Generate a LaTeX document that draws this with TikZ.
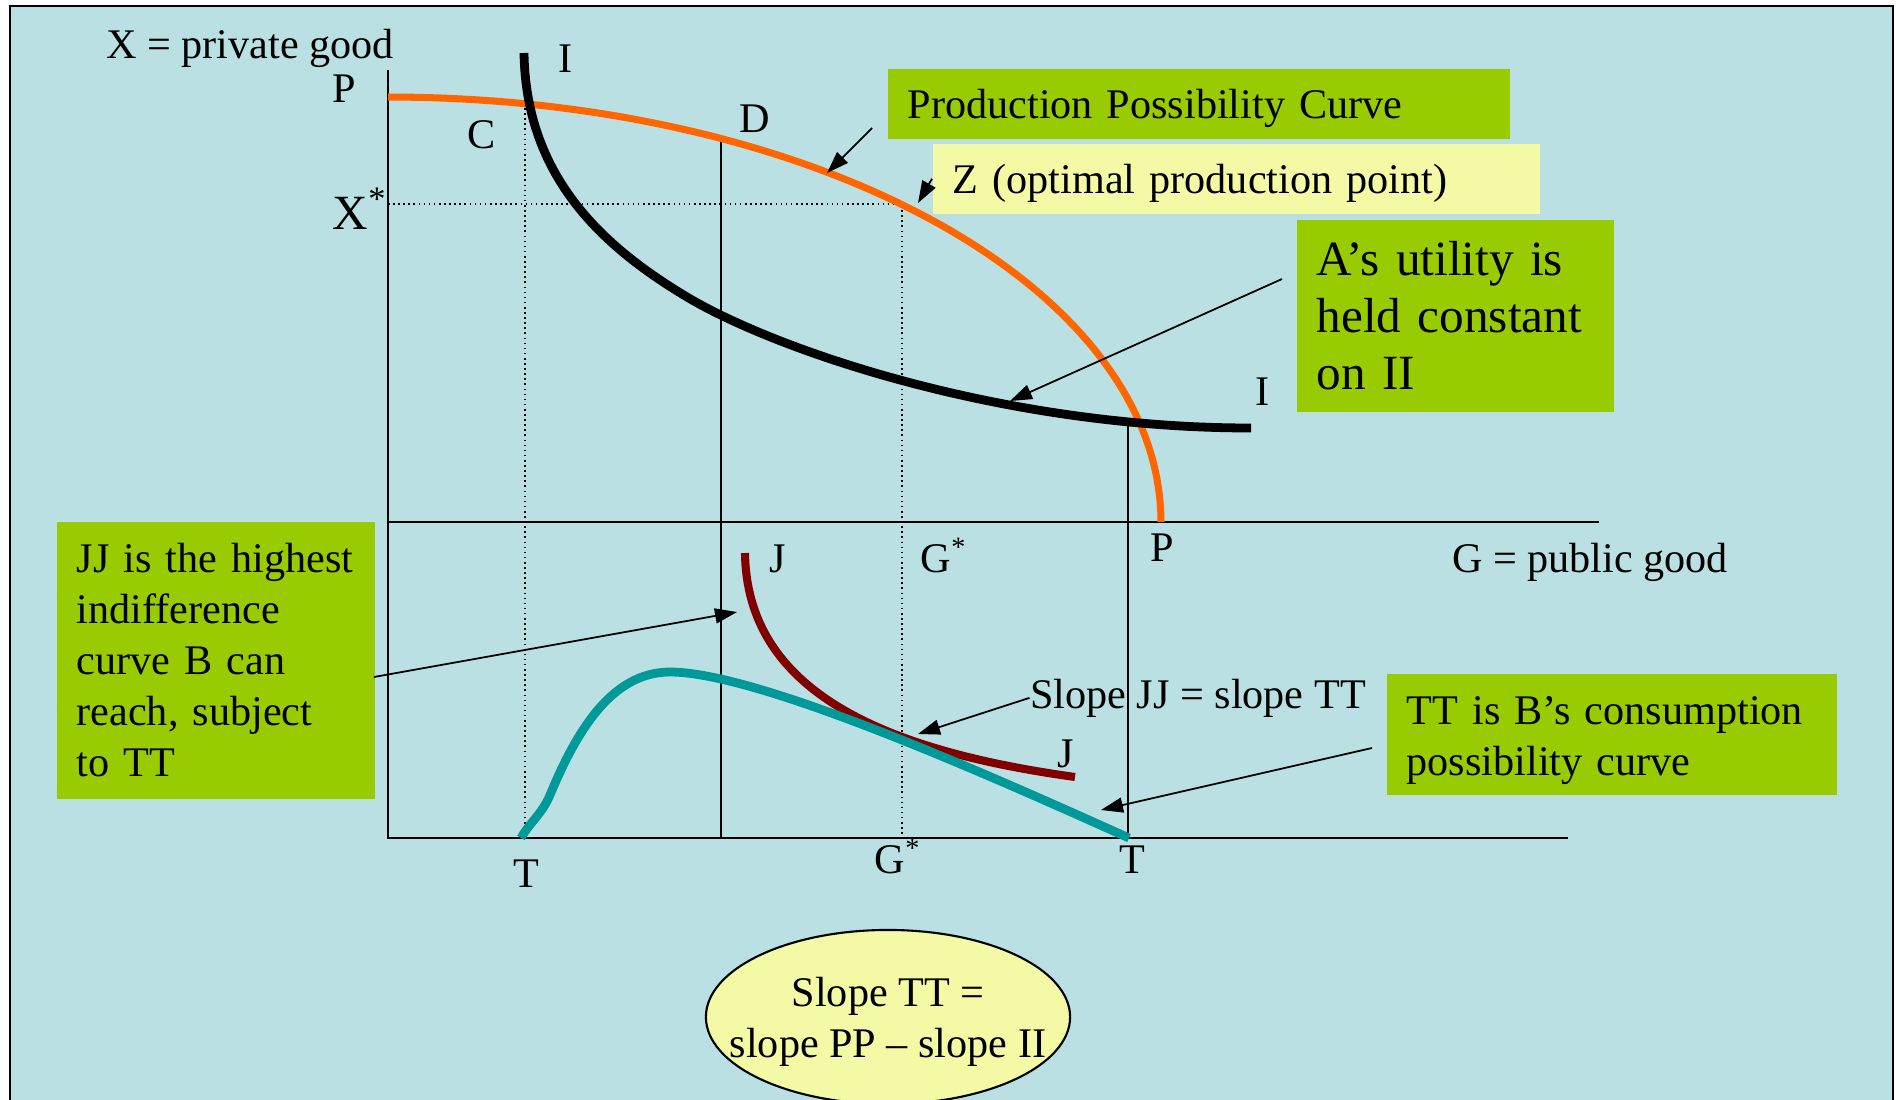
\documentclass[tikz,border=0pt]{standalone}
\usepackage{fontspec}
\setmainfont{Liberation Serif}
\usetikzlibrary{arrows.meta,shapes.geometric}
\definecolor{SlideBg}{HTML}{BBE0E3}
\definecolor{BoxGreen}{HTML}{99CC00}
\definecolor{BoxYellow}{HTML}{F4F9A5}
\definecolor{PPOrange}{HTML}{FF6600}
\definecolor{JJRed}{HTML}{800000}
\definecolor{TTTeal}{HTML}{009999}

\tikzset{
  lbl/.style={inner sep=0pt, anchor=base},
  greenbox/.style={fill=BoxGreen, anchor=north west, inner xsep=0.2cm, inner ysep=0pt, align=left},
  yellowbox/.style={greenbox, fill=BoxYellow},
  callout/.style={-{Triangle[length=2.2mm,width=1.5mm]}, line width=0.5pt},
  axisline/.style={line width=0.7pt},
  guide/.style={line width=0.45pt, densely dotted},
}

\begin{document}
\begin{tikzpicture}[x=0.01cm, y=-0.01cm, every node/.style={font=\fontsize{12}{14.5}\selectfont}]
  \useasboundingbox (0,0) rectangle (1896,1100);
  \draw[line width=0.5pt, fill=SlideBg] (10,6) rectangle (1893,1110);

  % key points of the two panels
  \coordinate (Xtop) at (388,70);
  \coordinate (O1) at (388,522);
  \coordinate (O2) at (388,838);
  \coordinate (Gend1) at (1599,522);
  \coordinate (Gend2) at (1568,838);
  \coordinate (C) at (525,103);
  \coordinate (D) at (721,140);
  \coordinate (Z) at (902,204);
  \coordinate (E) at (1128,426);
  \coordinate (Xs) at (388,204);
  \coordinate (Tl) at (525,838);
  \coordinate (Dg) at (721,838);
  \coordinate (Gs) at (902,838);
  \coordinate (Tr) at (1128,838);

  % axes and guides
  \draw[axisline] (Xtop) -- (O2) -- (Gend2);
  \draw[axisline] (O1) -- (Gend1);
  \draw[line width=0.45pt] (D) -- (Dg);
  \draw[line width=0.45pt] (E) -- (Tr);
  \draw[guide] (C) -- (Tl);
  \draw[guide] (Xs) -- (Z) -- (Gs);

  % curves
  \draw[PPOrange, line width=2pt] plot[domain=0:90, samples=80] ({388+773*cos(\x)}, {522-425*sin(\x)});
  \draw[black, line width=2.5pt] (524,53) .. controls (526,175) and (600,245) .. (687,297)
    .. controls (774,349) and (1000,428) .. (1251,428);
  \draw[JJRed, line width=2.3pt] (745,553) .. controls (747,690) and (880,750) .. (1075,777);
  \draw[TTTeal, line width=2.5pt] (521,838) .. controls (530,822) and (542,814) .. (550,795)
    .. controls (575,735) and (610,672) .. (670,672)
    .. controls (760,672) and (1000,780) .. (1129,838);

  % labels
  \node[lbl] (xlab) at (250,58) {X = private good};
  \node[lbl] (Ptop) at (344,103) {P};
  \node[lbl] (Itop) at (566,73) {I};
  \node[lbl] (Clab) at (482,148) {C};
  \node[lbl, font=\fontsize{14}{16}\selectfont] (Xstar) at (360,229) {X\textsuperscript{*}};
  \node[lbl] (Dlab) at (755,133) {D};
  \node[lbl] (Iright) at (1263,405) {I};
  \node[lbl] (Pbot) at (1162,561) {P};
  \node[lbl] (glab) at (1590,572) {G = public good};
  \node[lbl] (Jtop) at (778,572) {J};
  \node[lbl] (Gstop) at (944,572) {G\textsuperscript{*}};
  \node[lbl] (slopelab) at (1198,708) {Slope JJ = slope TT};
  \node[lbl] (Jbot) at (1066,767) {J};
  \node[lbl] (Tleft) at (526,887) {T};
  \node[lbl] (Gsbot) at (898,873) {G\textsuperscript{*}};
  \node[lbl] (Tright) at (1132,873) {T};

  % boxes
  \node[greenbox, text width=5.82cm, minimum height=0.70cm, text depth=0pt] (ppcbox) at (887,68) {Production Possibility Curve};
  \node[yellowbox, text width=5.67cm, minimum height=0.70cm, text depth=0pt] (zbox) at (932,143) {Z (optimal production point)};
  \node[greenbox, text width=2.77cm, minimum height=1.92cm, font=\fontsize{14}{16.2}\selectfont] (abox) at (1296,219) {A’s utility is\\ held constant\\ on II};
  \node[greenbox, text width=2.78cm, minimum height=2.77cm] (jjbox) at (56,521) {JJ is the highest\\ indifference\\ curve B can\\ reach, subject\\ to TT};
  \node[greenbox, text width=4.1cm, minimum height=1.21cm, text depth=13.7pt] (ttbox) at (1386,673) {TT is B’s consumption\\ possibility curve};
  \node[ellipse, draw, line width=0.6pt, fill=BoxYellow, minimum width=3.64cm, minimum height=1.74cm, inner sep=0pt] (slopenote) at (888,1017) {};
  \node[align=center, inner sep=0pt] (slopetext) at (888,1022) {Slope TT =\\ slope PP – slope II};

  % callouts
  \coordinate (ppcTail) at (872,128);
  \coordinate (ppcTip) at (827,173);
  \coordinate (zTip) at (918,203);
  \coordinate (aTail) at (1282,279);
  \coordinate (aTip) at (1010,401);
  \coordinate (jjTail) at (374,677);
  \coordinate (jjTip) at (737,612);
  \coordinate (slopeTip) at (918,734);
  \coordinate (ttTail) at (1372,748);
  \coordinate (ttTip) at (1101,810);
  \draw[callout] (ppcTail) -- (ppcTip);
  \draw[callout] (zbox.west) -- (zTip);
  \draw[callout] (aTail) -- (aTip);
  \draw[callout] (jjTail) -- (jjTip);
  \draw[callout] (slopelab.west) -- (slopeTip);
  \draw[callout] (ttTail) -- (ttTip);
\end{tikzpicture}
\end{document}
